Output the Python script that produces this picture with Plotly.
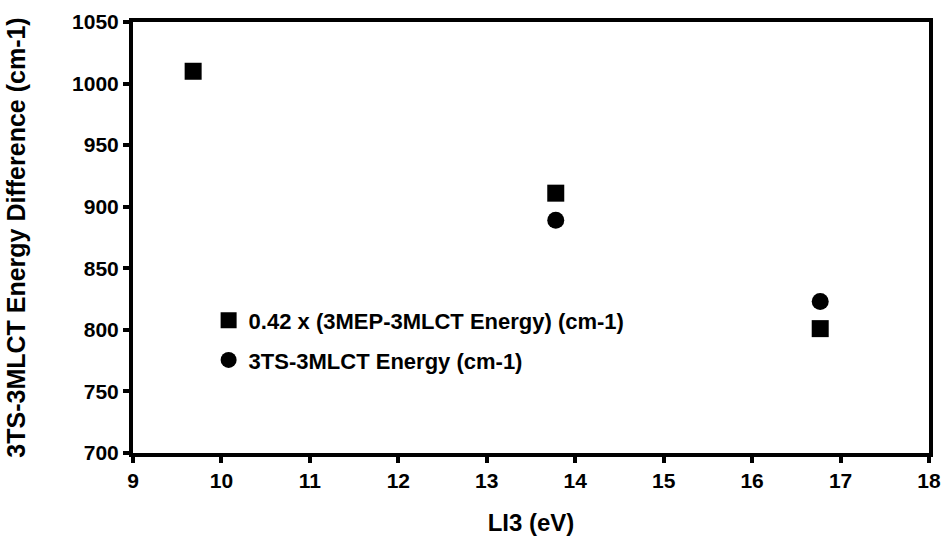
import plotly.graph_objects as go

x_mep = [9.68, 13.78, 16.77]
y_mep = [1010, 911, 801]
x_ts = [13.78, 16.77]
y_ts = [889, 823]

name_mep = "0.42 x (3MEP-3MLCT Energy) (cm-1)"
name_ts = "3TS-3MLCT Energy (cm-1)"

x_ticks = list(range(9, 19))
y_ticks = list(range(700, 1051, 50))

FONT = "Liberation Sans"

fig = go.Figure()
fig.add_trace(go.Scatter(x=x_mep, y=y_mep, mode="markers", name=name_mep,
                         legendgroup="a",
                         marker=dict(symbol="square", size=17, color="black")))
fig.add_trace(go.Scatter(x=x_ts, y=y_ts, mode="markers", name=name_ts,
                         legendgroup="b",
                         marker=dict(symbol="circle", size=17, color="black")))

axis_common = dict(showline=True, linecolor="black", linewidth=4, mirror=True,
                   ticks="outside", ticklen=6, tickwidth=4, tickcolor="black",
                   showgrid=False, zeroline=False, automargin=False,
                   tickfont=dict(family=FONT, size=21, color="black", weight="bold"))

fig.update_layout(
    width=943, height=542,
    margin=dict(l=133, r=14, t=22, b=89),
    paper_bgcolor="white", plot_bgcolor="white",
    font=dict(family=FONT, color="black"),
    xaxis=dict(range=[9, 18], tickvals=x_ticks,
               title=dict(text="<b>LI3 (eV)</b>", font=dict(family=FONT, size=24), standoff=24),
               **axis_common),
    yaxis=dict(range=[700, 1050], tickvals=y_ticks,
               title=dict(text="<b>3TS-3MLCT Energy Difference (cm-1)</b>", font=dict(family=FONT, size=25), standoff=40),
               **axis_common),
    showlegend=True,
    legend=dict(x=0.095, y=0.356, xanchor="left", yanchor="top",
                bgcolor="rgba(0,0,0,0)", tracegroupgap=8,
                font=dict(family=FONT, size=22, color="black", weight="bold"),
                itemwidth=30),
)

fig.write_html("out.html")
